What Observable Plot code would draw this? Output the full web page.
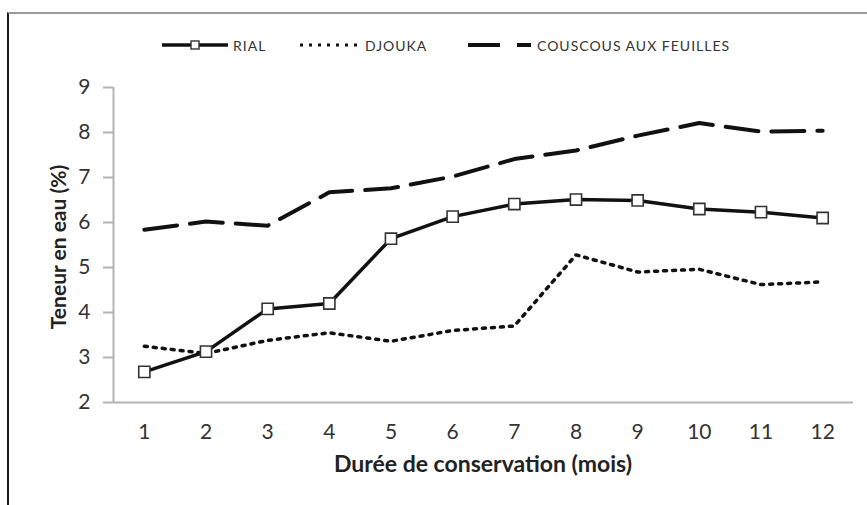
<!DOCTYPE html>
<html>
<head>
<meta charset="utf-8">
<script src="https://cdn.jsdelivr.net/npm/d3@7"></script>
<script src="https://cdn.jsdelivr.net/npm/@observablehq/plot@0.6"></script>
<style>
  html, body { margin: 0; padding: 0; background: #fff; }
  #wrap { position: relative; width: 867px; height: 505px; overflow: hidden; font-family: Lato, "Open Sans", sans-serif; }
  #frame { position: absolute; left: 7px; top: 12px; width: 900px; height: 600px; border-left: 2px solid #1a1a1a; border-top: 2px solid #9a9a9a; }
  #chart { position: absolute; left: 0; top: 0; }
  .ytitle { position: absolute; left: 57px; top: 247px; transform: translate(-50%, -50%) rotate(-90deg); font-weight: bold; font-size: 21px; color: #222; white-space: nowrap; }
  .xtitle { position: absolute; left: 483px; top: 463px; transform: translate(-50%, -50%); font-weight: bold; font-size: 23px; color: #222; white-space: nowrap; }
  #legend { position: absolute; top: 45px; left: 0; width: 867px; height: 0; }
  .lg { position: absolute; top: 0; transform: translateY(-50%); font-size: 14px; letter-spacing: 1px; color: #333; white-space: nowrap; }
  .sw { position: absolute; top: -8px; }
</style>
</head>
<body>
<div id="wrap">
  <div id="frame"></div>
  <div id="chart"></div>
  <div class="ytitle">Teneur en eau (%)</div>
  <div class="xtitle">Durée de conservation (mois)</div>
  <div id="legend"></div>
</div>
<script>
const months = [1, 2, 3, 4, 5, 6, 7, 8, 9, 10, 11, 12];
const rial = [2.68, 3.13, 4.08, 4.20, 5.64, 6.13, 6.41, 6.51, 6.49, 6.30, 6.23, 6.10];
const djouka = [3.25, 3.09, 3.38, 3.55, 3.36, 3.60, 3.70, 5.28, 4.90, 4.96, 4.62, 4.68];
const couscous = [5.84, 6.02, 5.93, 6.67, 6.76, 7.02, 7.41, 7.60, 7.93, 8.21, 8.02, 8.04];
const yTicks = [2, 3, 4, 5, 6, 7, 8, 9];
const seriesNames = ["RIAL", "DJOUKA", "COUSCOUS AUX FEUILLES"];

const toRows = (vals) => months.map((m, i) => ({month: m, value: vals[i]}));
const rialRows = toRows(rial);
const djoukaRows = toRows(djouka);
const couscousRows = toRows(couscous);

const axisGray = "#b3b3b3";

const chart = Plot.plot({
  width: 867,
  height: 505,
  marginLeft: 113,
  marginRight: 14,
  marginTop: 87,
  marginBottom: 103,
  style: {fontFamily: "Lato, 'Open Sans', sans-serif", fontSize: "21px", background: "transparent", overflow: "visible"},
  x: {domain: [0.5, 12.5]},
  y: {domain: [2, 9]},
  marks: [
    Plot.ruleX([0.5], {y1: 2, y2: 9, stroke: axisGray, strokeWidth: 2}),
    Plot.ruleY([2], {x1: 0.5, x2: 12.5, stroke: axisGray, strokeWidth: 2}),
    Plot.axisY({ticks: yTicks, tickFormat: "d", tickSize: 10, tickPadding: 13, stroke: axisGray, strokeWidth: 2, fill: "#333", label: null, fontSize: 21}),
    Plot.axisX({ticks: months, tickFormat: "d", tickSize: 0, tickPadding: 22, fill: "#333", label: null, fontSize: 21}),
    Plot.line(couscousRows, {x: "month", y: "value", stroke: "#111", strokeWidth: 4, strokeDasharray: "33,13"}),
    Plot.line(djoukaRows, {x: "month", y: "value", stroke: "#111", strokeWidth: 3.5, strokeDasharray: "3,6"}),
    Plot.line(rialRows, {x: "month", y: "value", stroke: "#111", strokeWidth: 3.5}),
    Plot.dot(rialRows, {x: "month", y: "value", symbol: "square", r: 6.3, fill: "#fff", stroke: "#333", strokeWidth: 1.6})
  ]
});
document.getElementById("chart").appendChild(chart);

// Legend
const legend = document.getElementById("legend");
const items = [
  {name: seriesNames[0], x: 162, w: 66, textX: 233, kind: "solid"},
  {name: seriesNames[1], x: 300, w: 58, textX: 365, kind: "dotted"},
  {name: seriesNames[2], x: 468, w: 63, textX: 537, kind: "dashed"}
];
for (const it of items) {
  const ns = "http://www.w3.org/2000/svg";
  const svg = document.createElementNS(ns, "svg");
  svg.setAttribute("width", it.w);
  svg.setAttribute("height", 16);
  svg.setAttribute("class", "sw");
  svg.style.left = it.x + "px";
  const line = document.createElementNS(ns, "line");
  line.setAttribute("x1", 0); line.setAttribute("x2", it.w);
  line.setAttribute("y1", 8); line.setAttribute("y2", 8);
  line.setAttribute("stroke", "#111");
  if (it.kind === "solid") {
    line.setAttribute("stroke-width", 3.5);
  } else if (it.kind === "dotted") {
    line.setAttribute("stroke-width", 3);
    line.setAttribute("stroke-dasharray", "3,6");
  } else {
    line.setAttribute("stroke-width", 4);
    line.setAttribute("stroke-dasharray", "32,17");
  }
  svg.appendChild(line);
  if (it.kind === "solid") {
    const r = document.createElementNS(ns, "rect");
    r.setAttribute("x", it.w / 2 - 4); r.setAttribute("y", 4);
    r.setAttribute("width", 8); r.setAttribute("height", 8);
    r.setAttribute("fill", "#fff"); r.setAttribute("stroke", "#333"); r.setAttribute("stroke-width", 1.4);
    svg.appendChild(r);
  }
  legend.appendChild(svg);
  const t = document.createElement("div");
  t.className = "lg";
  t.style.left = it.textX + "px";
  t.textContent = it.name;
  legend.appendChild(t);
}
</script>
</body>
</html>
